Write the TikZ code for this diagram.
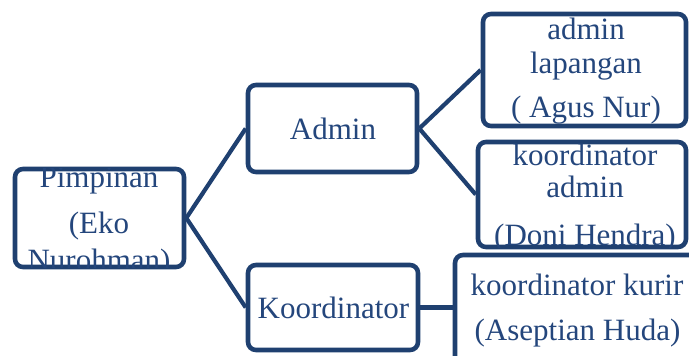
\documentclass[tikz,border=0pt]{standalone}
\usepackage{fontspec}
\setmainfont{Liberation Serif}
\definecolor{bordc}{RGB}{31,64,112}
\definecolor{txtc}{RGB}{36,70,124}
\begin{document}
\begin{tikzpicture}[x=1pt,y=-1pt,
  box/.style={draw=bordc, line width=4.6pt, rounded corners=8pt, rectangle, inner sep=0pt},
  conn/.style={draw=bordc, line width=4.2pt},
  txt/.style={text=txtc, anchor=base, inner sep=0pt, font=\fontsize{31}{34}\selectfont}]
\useasboundingbox (0,0) rectangle (689,356);
\clip (0,0) rectangle (689,356);
% boxes
\node[box, minimum width=169pt, minimum height=98pt] (p) at (99.5,218) {};
\node[box, minimum width=169pt, minimum height=87pt] (a) at (332.5,128.5) {};
\node[box, minimum width=170pt, minimum height=85pt] (k) at (333,307.5) {};
\node[box, minimum width=203pt, minimum height=112pt] (al) at (584.5,70) {};
\node[box, minimum width=208pt, minimum height=105pt] (ka) at (582,194.5) {};
\node[box, minimum width=260pt, minimum height=110pt] (kk) at (585,310) {};
% connectors
\draw[conn] (p.east) -- (a.west);
\draw[conn] (p.east) -- (k.west);
\draw[conn] (a.east) -- (al.west);
\draw[conn] (a.east) -- (ka.west);
\draw[conn] (k.east) -- (k.east -| kk.west);
% texts, clipped to box interiors
\begin{scope}
  \clip ([shift={(2pt,2pt)}]p.south west) rectangle ([shift={(-2pt,-2pt)}]p.north east);
  \node[txt] (p1) at (99,187) {Pimpinan};
  \node[txt] (p2) at (99,233) {(Eko};
  \node[txt] (p3) at (99,270) {Nurohman)};
\end{scope}
\node[txt] (a1) at (333,139) {Admin};
\node[txt] (k1) at (333.5,318) {Koordinator};
\begin{scope}
  \clip ([shift={(2pt,2pt)}]al.south west) rectangle ([shift={(-2pt,-2pt)}]al.north east);
  \node[txt] (al1) at (586,39) {admin};
  \node[txt] (al2) at (586,73) {lapangan};
  \node[txt] (al3) at (586,117) {( Agus Nur)};
\end{scope}
\begin{scope}
  \clip ([shift={(2pt,2pt)}]ka.south west) rectangle ([shift={(-2pt,-2pt)}]ka.north east);
  \node[txt] (ka1) at (585,165) {koordinator};
  \node[txt] (ka2) at (585,197) {admin};
  \node[txt] (ka3) at (585,245) {(Doni Hendra)};
\end{scope}
\node[txt] (kk1) at (577,295) {koordinator kurir};
\node[txt] (kk2) at (577.5,340) {(Aseptian Huda)};
\end{tikzpicture}
\end{document}
